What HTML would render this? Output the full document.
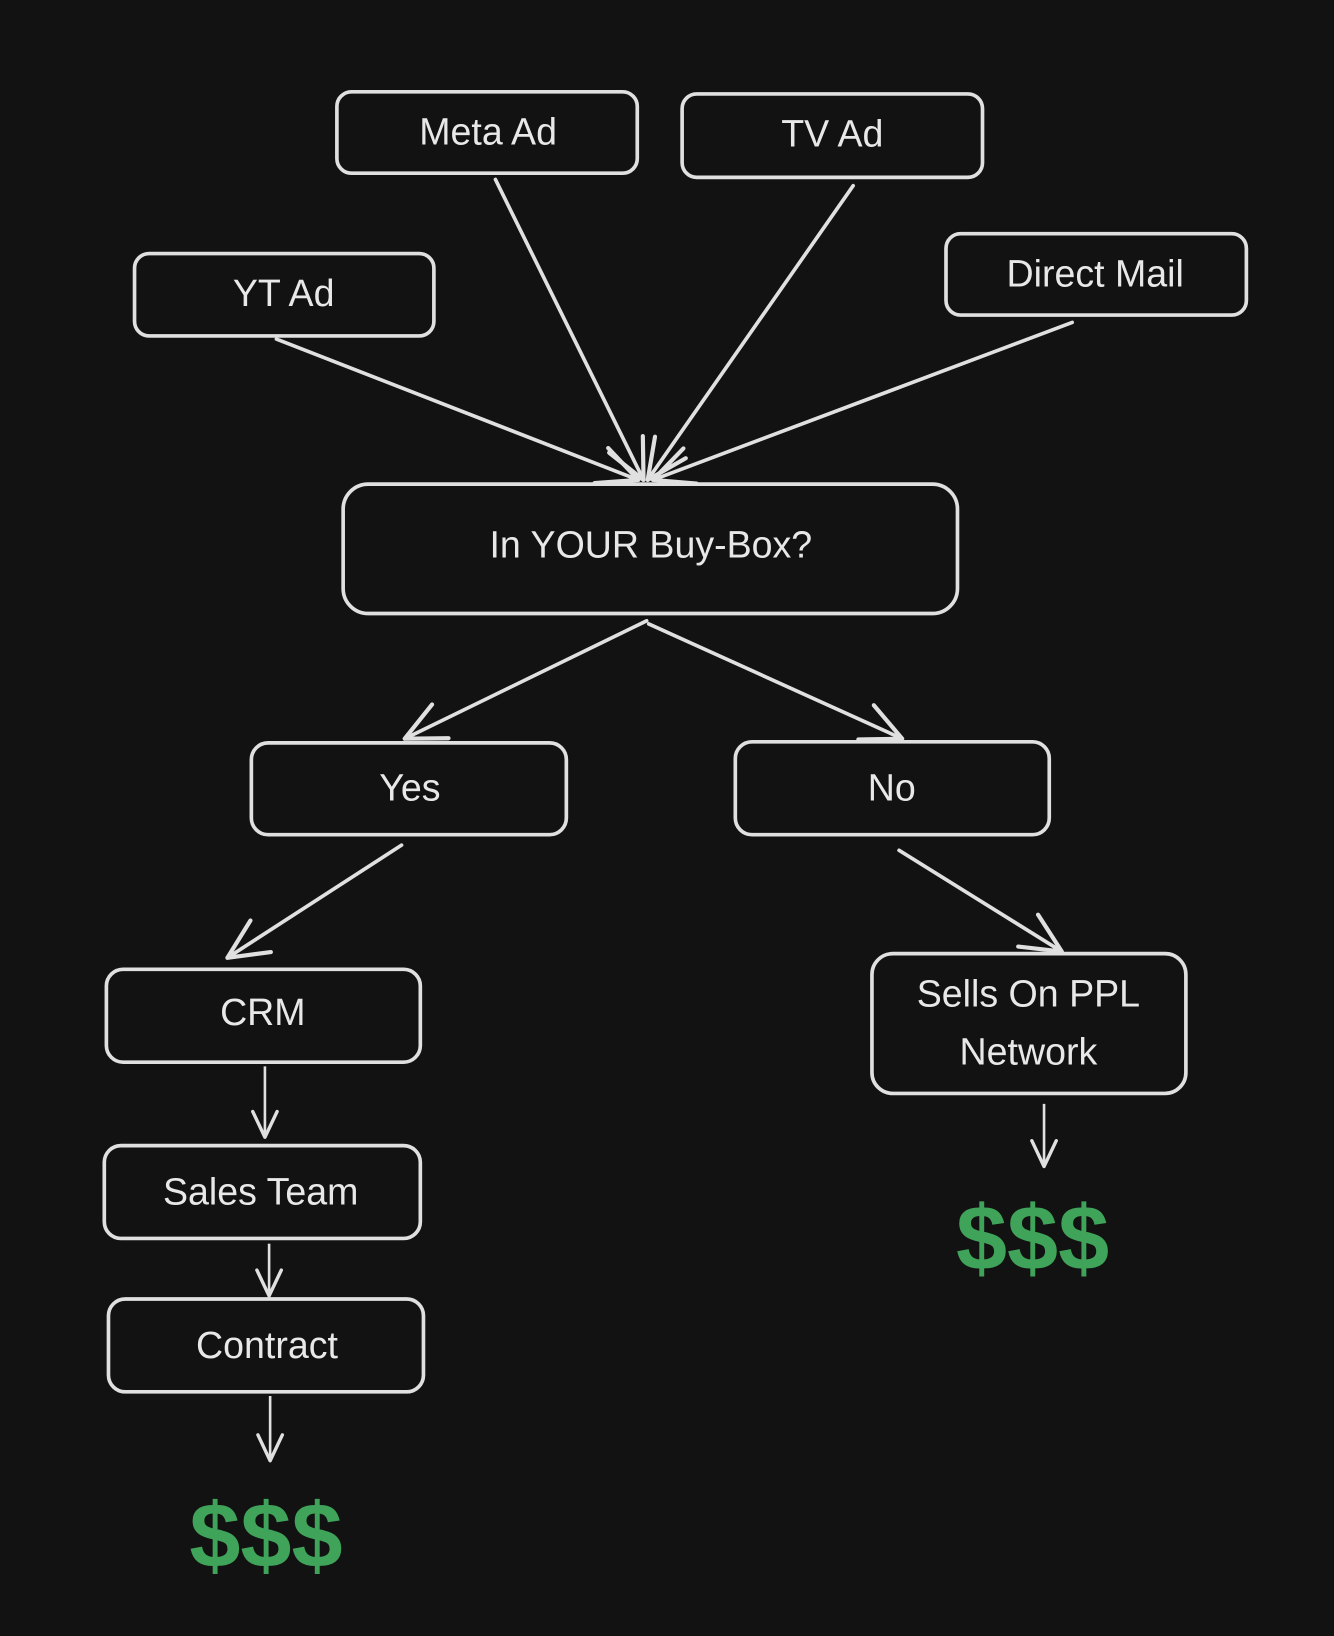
<!DOCTYPE html>
<html><head><meta charset="utf-8"><style>
html,body{margin:0;padding:0;background:#121212;}
svg{display:block;}
text{font-family:"Liberation Sans",sans-serif;fill:#e8e8e8;text-anchor:middle;dominant-baseline:central;}
marker{overflow:visible;}
</style></head><body>
<svg width="1334" height="1636" viewBox="0 0 1279 1568" preserveAspectRatio="none" xmlns="http://www.w3.org/2000/svg">
<defs>
<marker id="ah" viewBox="0 0 20 20" refX="19" refY="10" markerWidth="40" markerHeight="40" markerUnits="userSpaceOnUse" orient="auto" overflow="visible">
<path d="M0,1 L19,10 L0,19" fill="none" stroke="#e0e0e0" stroke-width="2" stroke-linecap="round" stroke-linejoin="round"/>
</marker>
<marker id="ahs" viewBox="0 0 20 20" refX="19" refY="10" markerWidth="26" markerHeight="26" markerUnits="userSpaceOnUse" orient="auto" overflow="visible">
<path d="M0,1 L19,10 L0,19" fill="none" stroke="#e0e0e0" stroke-width="2.5" stroke-linecap="round" stroke-linejoin="round"/>
</marker>
</defs>
<rect width="1279" height="1568" fill="#121212"/>
<g fill="none" stroke="#e0e0e0" stroke-width="3.5">
<rect x="323" y="88" width="288" height="78" rx="14"/>
<rect x="654" y="90" width="288" height="80" rx="14"/>
<rect x="129" y="243" width="287" height="79" rx="14"/>
<rect x="907" y="224" width="288" height="78" rx="14"/>
<rect x="329" y="464" width="589" height="124" rx="24"/>
<rect x="241" y="712" width="302" height="88" rx="16"/>
<rect x="705" y="711" width="301" height="89" rx="16"/>
<rect x="102" y="929" width="301" height="89" rx="16"/>
<rect x="100" y="1098" width="303" height="89" rx="16"/>
<rect x="104" y="1245" width="302" height="89" rx="16"/>
<rect x="836" y="914" width="301" height="134" rx="20"/>
</g>
<g fill="none" stroke="#e0e0e0" stroke-width="3.5" stroke-linecap="round">
<line x1="265" y1="325" x2="612" y2="460" marker-end="url(#ah)"/>
<line x1="475" y1="172" x2="617" y2="460" marker-end="url(#ah)"/>
<line x1="818" y1="178" x2="621" y2="460" marker-end="url(#ah)"/>
<line x1="1028" y1="309" x2="626" y2="460" marker-end="url(#ah)"/>
<line x1="620" y1="595" x2="388" y2="708" marker-end="url(#ah)"/>
<line x1="622" y1="598" x2="865" y2="708" marker-end="url(#ah)"/>
<line x1="385" y1="810" x2="218" y2="918" marker-end="url(#ah)"/>
<line x1="862" y1="815" x2="1018" y2="912" marker-end="url(#ah)"/>
</g>
<g fill="none" stroke="#e0e0e0" stroke-width="2.5">
<line x1="254" y1="1022" x2="254" y2="1090" marker-end="url(#ahs)"/>
<line x1="258" y1="1192" x2="258" y2="1242" marker-end="url(#ahs)"/>
<line x1="259" y1="1338" x2="259" y2="1400" marker-end="url(#ahs)"/>
<line x1="1001" y1="1058" x2="1001" y2="1118" marker-end="url(#ahs)"/>
</g>
<g font-size="36">
<text x="468" y="126">Meta Ad</text>
<text x="798" y="128">TV Ad</text>
<text x="272" y="281">YT Ad</text>
<text x="1050" y="262">Direct Mail</text>
<text x="624" y="522">In YOUR Buy-Box?</text>
<text x="393" y="755">Yes</text>
<text x="855" y="755">No</text>
<text x="252" y="970">CRM</text>
<text x="250" y="1142">Sales Team</text>
<text x="256" y="1289">Contract</text>
<text x="986" y="952">Sells On PPL</text>
<text x="986" y="1008">Network</text>
</g>
<g font-size="88" font-weight="bold">
<text x="255" y="1472" style="fill:#40a35a">$$$</text>
<text x="990" y="1187" style="fill:#40a35a">$$$</text>
</g>
</svg>
</body></html>
